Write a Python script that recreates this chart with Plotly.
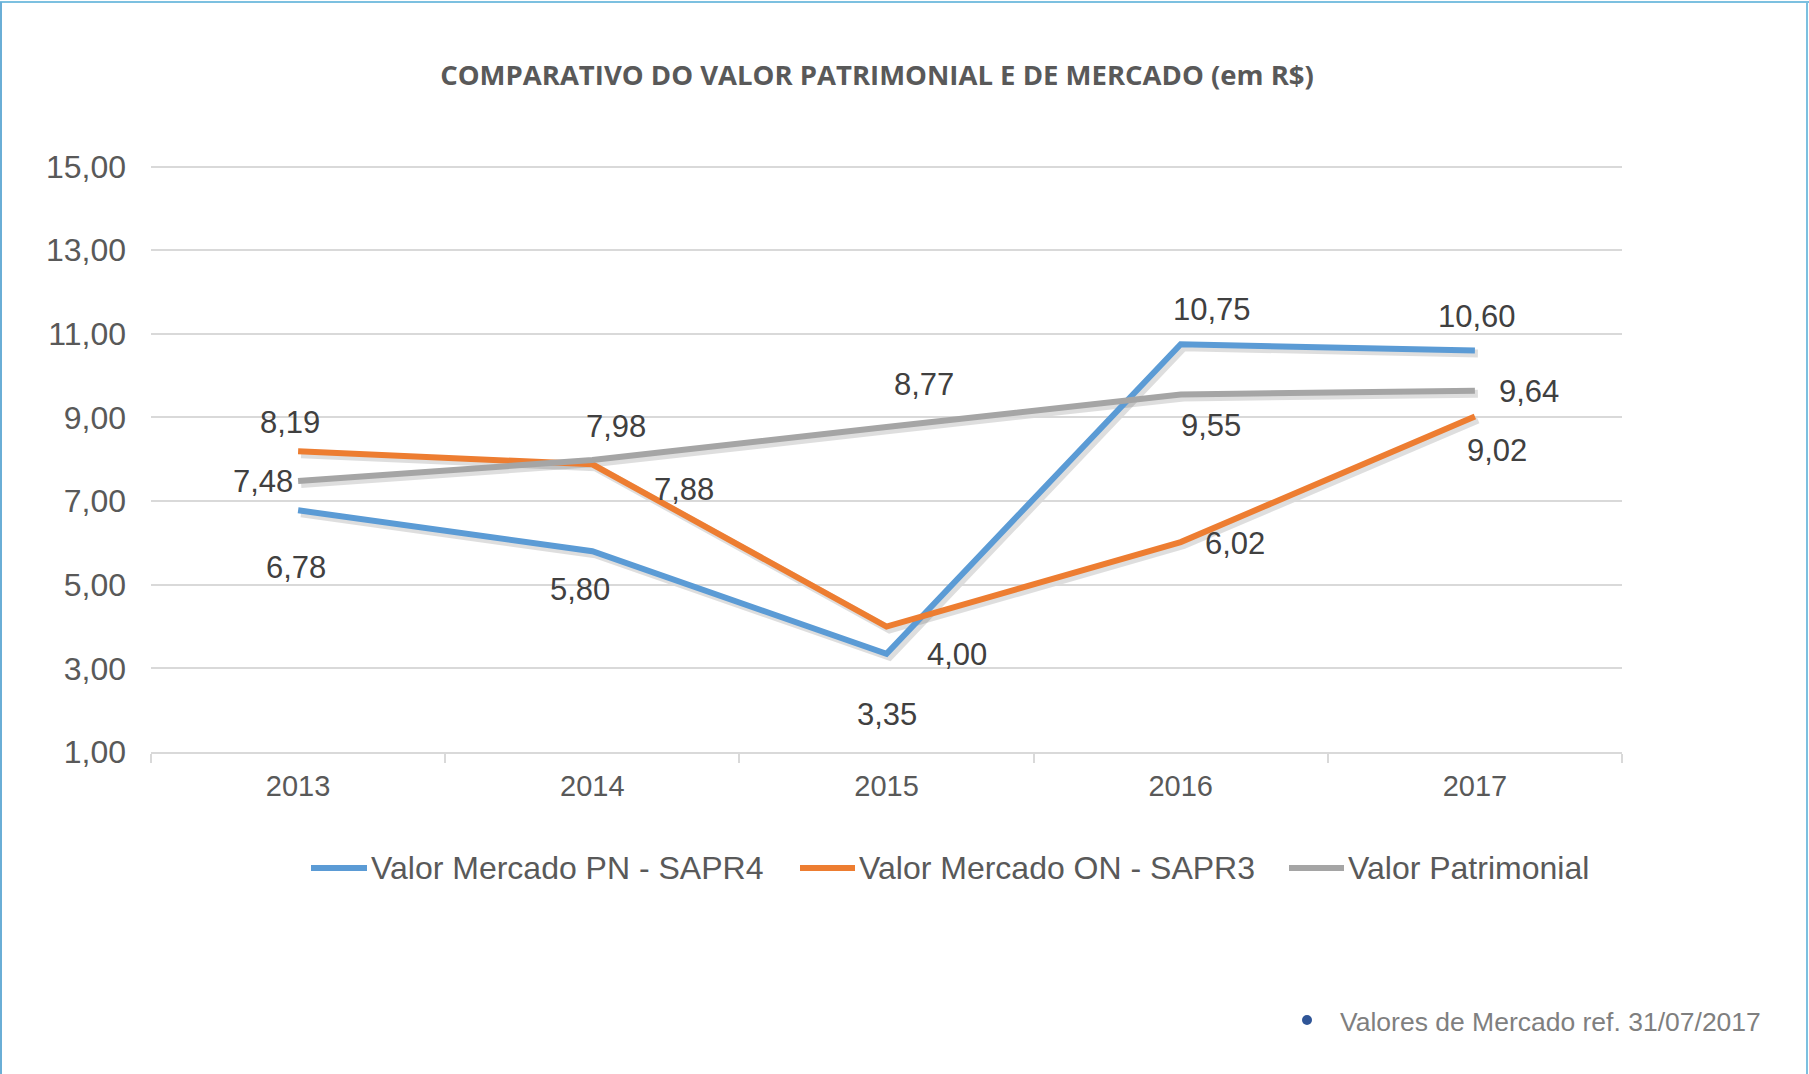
import plotly.graph_objects as go

# ---------------- data ----------------
years = ["2013", "2014", "2015", "2016", "2017"]
pn_sapr4 = [6.78, 5.80, 3.35, 10.75, 10.60]
on_sapr3 = [8.19, 7.88, 4.00, 6.02, 9.02]
patrimonial = [7.48, 7.98, 8.77, 9.55, 9.64]
series_names = ["Valor Mercado PN - SAPR4", "Valor Mercado ON - SAPR3", "Valor Patrimonial"]
title_text = "COMPARATIVO DO VALOR PATRIMONIAL E DE MERCADO (em R$)"
footnote_text = "Valores de Mercado ref. 31/07/2017"

# ---------------- styles ----------------
colors = ["#5B9BD5", "#ED7D31", "#A5A5A5"]
# label offsets (pixels) per series / point: (xshift, yshift)
label_offsets = [
    [(-2, -57), (-12, -38), (0, -61), (31, 35), (2, 34)],
    [(-8, 29), (92, -25), (70, -28), (54, -1), (22, -34)],
    [(-35, 0), (24, 34), (37, 43), (30, -31), (54, -1)],
]
# custom legend: (line start px, line end px, text start px), centre y px
legend_pos = [(311, 367, 369), (800, 855, 857), (1289, 1344, 1346)]
legend_y = 868

W, H = 1809, 1074
Y_MIN, Y_MAX, Y_TOP = 1, 15, 15.06         # Y_TOP slightly above 15 so its gridline shows
PL, PR, PB = 151, 1622, 752                # main plot area in pixels
PX_PER_UNIT = (752 - 167) / (15 - 1)
PT = round(167 - (Y_TOP - Y_MAX) * PX_PER_UNIT)
SH = 3                                     # shadow offset in px
pw = (PR - PL) + SH
ph = (PB - PT) + SH


def px_x(px):
    return (px - PL) / pw


def px_y(py):
    return (PB + SH - py) / ph


font_main = "Liberation Sans, Arial, sans-serif"

fig = go.Figure()

all_series = [pn_sapr4, on_sapr3, patrimonial]

# shadow traces (on shifted axes x/y)
for vals in all_series:
    fig.add_trace(go.Scatter(
        x=years, y=vals, mode="lines", xaxis="x", yaxis="y",
        line=dict(color="rgba(0,0,0,0.13)", width=8),
        showlegend=False, hoverinfo="skip"))

# main traces (on axes x2/y2)
for name, vals, col in zip(series_names, all_series, colors):
    fig.add_trace(go.Scatter(
        x=years, y=vals, mode="lines", name=name, xaxis="x2", yaxis="y2",
        line=dict(color=col, width=6), showlegend=False))

annotations = []
for vals, offs in zip(all_series, label_offsets):
    for i, (v, (dx, dy)) in enumerate(zip(vals, offs)):
        annotations.append(dict(
            x=i, y=v, xref="x2", yref="y2", showarrow=False,
            text=f"{v:.2f}".replace(".", ","), xshift=dx, yshift=dy,
            font=dict(family=font_main, size=31, color="#404040")))

# footnote
annotations.append(dict(
    x=px_x(1338), y=px_y(1022), xref="paper", yref="paper", showarrow=False,
    text=footnote_text, xanchor="left", yanchor="middle",
    font=dict(family=font_main, size=26.5, color="#7F7F7F")))

shapes = []
# custom legend
for name, col, (l0, l1, t0) in zip(series_names, colors, legend_pos):
    shapes.append(dict(type="line", xref="paper", yref="paper",
                       x0=px_x(l0), x1=px_x(l1), y0=px_y(legend_y), y1=px_y(legend_y),
                       line=dict(color=col, width=6)))
    annotations.append(dict(
        x=px_x(t0), y=px_y(legend_y), xref="paper", yref="paper", showarrow=False,
        text=name, xanchor="left", yanchor="middle",
        font=dict(family=font_main, size=32, color="#595959")))

# bullet of the footnote
shapes.append(dict(type="circle", xref="paper", yref="paper",
                   x0=px_x(1302), x1=px_x(1312), y0=px_y(1015), y1=px_y(1025),
                   fillcolor="#2F5597", line=dict(width=0)))

border_col = "#7CC0E0"
shapes += [
    dict(type="line", xref="paper", yref="paper", x0=px_x(0), x1=px_x(W), y0=px_y(2), y1=px_y(2),
         line=dict(color=border_col, width=2)),
    dict(type="line", xref="paper", yref="paper", x0=px_x(1), x1=px_x(1), y0=px_y(2), y1=px_y(H),
         line=dict(color="#6AAED6", width=2)),
    dict(type="line", xref="paper", yref="paper", x0=px_x(W - 2), x1=px_x(W - 2), y0=px_y(2), y1=px_y(H),
         line=dict(color=border_col, width=2)),
]

main_xdom = [0, (PR - PL) / pw]
main_ydom = [SH / ph, 1]
shadow_xdom = [SH / pw, 1]
shadow_ydom = [0, (PB - PT) / ph]

fig.update_layout(
    width=W, height=H,
    margin=dict(l=PL, r=W - PR - SH, t=PT, b=H - PB - SH, pad=0),
    paper_bgcolor="white", plot_bgcolor="rgba(0,0,0,0)",
    separators=",.",
    title=dict(text=f"<b>{title_text}</b>", x=877 / W, xanchor="center",
               y=1 - 75 / H, yanchor="middle", xref="container", yref="container",
               font=dict(family="Liberation Sans Narrow, Open Sans, sans-serif", size=27.5, color="#595959")),
    xaxis=dict(domain=shadow_xdom, anchor="y", type="category", visible=False,
               range=[-0.5, 4.5], fixedrange=True),
    yaxis=dict(domain=shadow_ydom, anchor="x", visible=False, range=[Y_MIN, Y_TOP]),
    xaxis2=dict(domain=main_xdom, anchor="y2", type="category", range=[-0.5, 4.5],
                showgrid=False, showline=True, linecolor="#D9D9D9", linewidth=2,
                ticks="outside", ticklen=9, tickcolor="#D9D9D9", tickwidth=2,
                tickson="boundaries",
                tickfont=dict(family=font_main, size=29, color="#595959"),
                ticklabelstandoff=7),
    yaxis2=dict(domain=main_ydom, anchor="x2", range=[Y_MIN, Y_TOP], tick0=1, dtick=2,
                tickformat=".2f", showgrid=True, gridcolor="#D9D9D9", gridwidth=1.5,
                zeroline=False, showline=False, ticks="",
                tickfont=dict(family=font_main, size=32, color="#595959"),
                ticklabelstandoff=24),
    annotations=annotations,
    shapes=shapes,
    showlegend=False,
)

fig.write_html("out.html", config={"displayModeBar": False},
               post_script="document.body.style.margin='0px';document.documentElement.style.overflow='hidden';")
